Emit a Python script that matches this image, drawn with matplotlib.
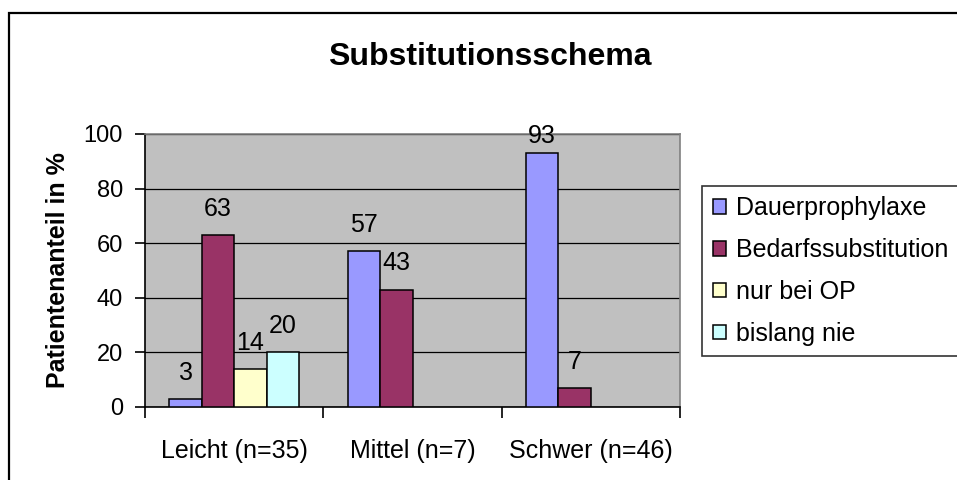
import numpy as np
import matplotlib.pyplot as plt
from matplotlib.patches import Rectangle

plt.rcParams['font.family'] = ['Liberation Sans', 'DejaVu Sans']

categories = ['Leicht (n=35)', 'Mittel (n=7)', 'Schwer (n=46)']
series_names = ['Dauerprophylaxe', 'Bedarfssubstitution', 'nur bei OP', 'bislang nie']
dauerprophylaxe = [3, 57, 93]
bedarfssubstitution = [63, 43, 7]
nur_bei_op = [14, np.nan, np.nan]
bislang_nie = [20, np.nan, np.nan]
series_colors = ['#9999FF', '#993366', '#FFFFCC', '#CCFFFF']

series = [dauerprophylaxe, bedarfssubstitution, nur_bei_op, bislang_nie]

fig = plt.figure(figsize=(9.57, 4.8), dpi=100)
ax = fig.add_axes([0.1515, 0.1521, 0.5591, 0.5688])
ax.set_facecolor('#C0C0C0')

# chart-area frame (runs off the right and bottom edges)
fig.patches.append(Rectangle((9 / 957, -0.2), 1.2, 1.2 - 12.5 / 480,
                             transform=fig.transFigure, fill=False,
                             edgecolor='black', linewidth=1.6, zorder=0))

x = np.arange(len(categories))
width = 1 / 5.5
for i, (vals, name, col) in enumerate(zip(series, series_names, series_colors)):
    pos = x + (i - 1.5) * width
    ax.bar(pos, vals, width, color=col, edgecolor='black',
           linewidth=1.1, label=name, zorder=3)
    for xp, v in zip(pos, vals):
        if np.isnan(v):
            continue
        # value label above the bar, kept from running past the top
        ax.text(xp, min(v + 7, 96.6), f'{v:g}', ha='center', va='baseline',
                fontsize=18, clip_on=False)

ax.set_xlim(-0.5, 2.5)
ax.set_ylim(0, 100)
ax.set_yticks(range(0, 101, 20))
ax.yaxis.grid(True, color='black', linewidth=0.9)
ax.set_axisbelow(True)

ax.set_xticks(x)
ax.set_xticklabels(categories)
ax.set_xticks([-0.5, 0.5, 1.5, 2.5], minor=True)
ax.tick_params(axis='x', which='major', length=0, pad=23, labelsize=18)
ax.tick_params(axis='x', which='minor', length=8, width=1.2, direction='out')
ax.tick_params(axis='y', length=7, width=1.2, direction='out', pad=9, labelsize=17)

for side in ('top', 'right'):
    ax.spines[side].set_color('#808080')
    ax.spines[side].set_linewidth(1.2)
for side in ('left', 'bottom'):
    ax.spines[side].set_color('black')
    ax.spines[side].set_linewidth(1.2)

ax.set_ylabel('Patientenanteil in %', fontsize=18, fontweight='bold')
ax.yaxis.set_label_coords(-0.14, 0.5)

fig.suptitle('Substitutionsschema', x=0.512, y=1 - 57 / 480, va='center',
             fontsize=23, fontweight='bold')

leg = fig.legend(loc='upper left', bbox_to_anchor=(702 / 957, 1 - 186 / 480),
                 fontsize=18, frameon=True, fancybox=False, borderaxespad=0,
                 handlelength=0.52, handleheight=0.52, handletextpad=0.4,
                 labelspacing=0.71, borderpad=0.42)
leg.get_frame().set_edgecolor('black')
leg.get_frame().set_linewidth(1.2)

fig.savefig('out.png', dpi=100, facecolor='white')
